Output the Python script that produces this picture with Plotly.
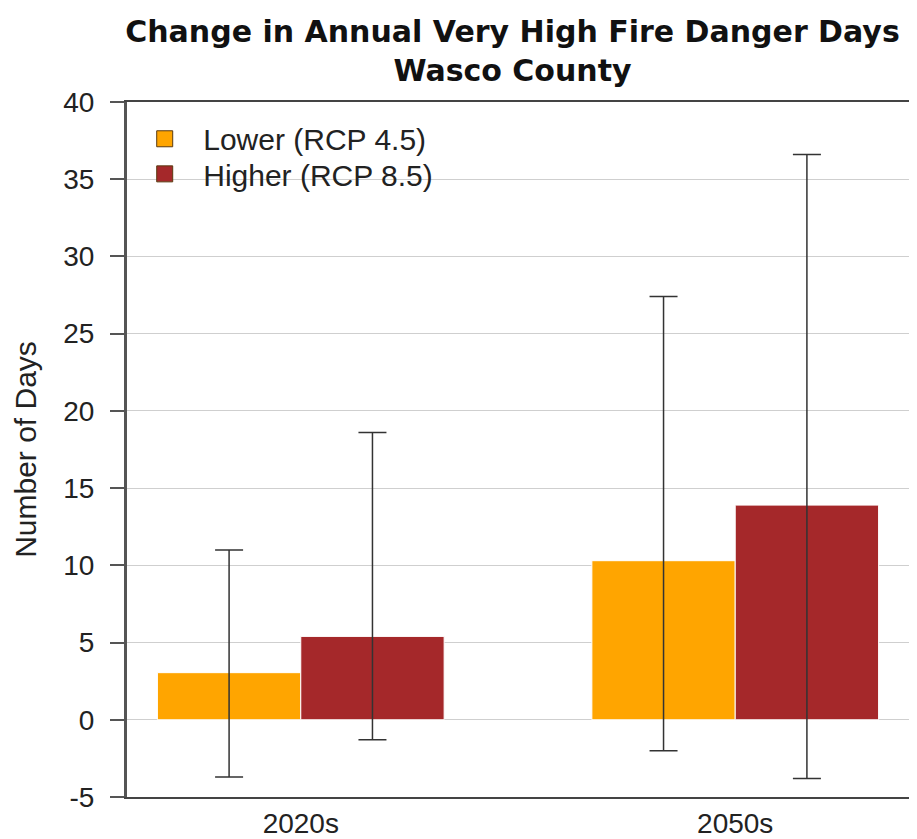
import plotly.graph_objects as go

periods = ["2020s", "2050s"]
lower_vals = [3.05, 10.3]
lower_hi = [11.0, 27.4]
lower_lo = [-3.7, -2.0]
higher_vals = [5.4, 13.9]
higher_hi = [18.6, 36.6]
higher_lo = [-1.3, -3.8]
y_ticks = [-5, 0, 5, 10, 15, 20, 25, 30, 35, 40]
y_tick_text = ["-5", "0", "5", "10", "15", "20", "25", "30", "35", "40"]

FONT = "Liberation Sans, Arial, sans-serif"
ORANGE = "#FFA500"
RED = "#A5282A"
ERR = dict(type="data", symmetric=False, color="#333333", thickness=1.5, width=14)

fig = go.Figure()
fig.add_trace(go.Bar(
    x=periods, y=lower_vals, name="Lower (RCP 4.5)", showlegend=False,
    marker=dict(color=ORANGE, line=dict(color="white", width=1)),
    error_y=dict(ERR, array=[h - v for h, v in zip(lower_hi, lower_vals)],
                 arrayminus=[v - l for l, v in zip(lower_lo, lower_vals)]),
))
fig.add_trace(go.Bar(
    x=periods, y=higher_vals, name="Higher (RCP 8.5)", showlegend=False,
    marker=dict(color=RED, line=dict(color="white", width=1)),
    error_y=dict(ERR, array=[h - v for h, v in zip(higher_hi, higher_vals)],
                 arrayminus=[v - l for l, v in zip(higher_lo, higher_vals)]),
))
# legend entries (square swatches with dark outline), one per legend box
for name, col, lg in [("Lower (RCP 4.5)", ORANGE, "legend"), ("Higher (RCP 8.5)", RED, "legend2")]:
    fig.add_trace(go.Scatter(
        x=[None], y=[None], mode="markers", name=name, legend=lg,
        marker=dict(symbol="square", size=16, color=col, line=dict(color="#5a3a10", width=1)),
    ))

LEG = dict(x=-0.001, xanchor="left", yanchor="top", bgcolor="rgba(0,0,0,0)",
           font=dict(size=30, color="#222"), itemwidth=67)

fig.update_layout(
    width=909, height=831,
    margin=dict(l=119, r=8, t=94, b=42, autoexpand=False),
    paper_bgcolor="white", plot_bgcolor="white",
    font=dict(family=FONT, size=28, color="#222"),
    title=dict(text="<b>Change in Annual Very High Fire Danger Days<br>Wasco County</b>",
               x=0.555, xanchor="center", yref="container", y=0.959, yanchor="middle",
               font=dict(family="DejaVu Sans, sans-serif", size=30, color="#111")),
    barmode="group", bargap=0.34, bargroupgap=0.0,
    showlegend=True,
    legend=dict(LEG, y=0.9845),
    legend2=dict(LEG, y=0.934),
    xaxis=dict(range=[-0.4, 1.4], showgrid=False, showline=True, linecolor="#444",
               linewidth=2, mirror=True, ticks="", tickfont=dict(size=28), automargin=False),
    yaxis=dict(range=[-5, 40], tickvals=y_ticks, ticktext=y_tick_text,
               showgrid=True, gridcolor="#cfcfcf", automargin=False,
               gridwidth=1, zeroline=False, showline=True, linecolor="#555",
               linewidth=3, mirror=True, ticks="outside", ticklen=14,
               tickcolor="#555", tickwidth=1.5, ticklabelstandoff=10,
               title=dict(text="Number of Days", font=dict(size=30), standoff=18),
               tickfont=dict(size=28)),
)

fig.write_html("out.html")
